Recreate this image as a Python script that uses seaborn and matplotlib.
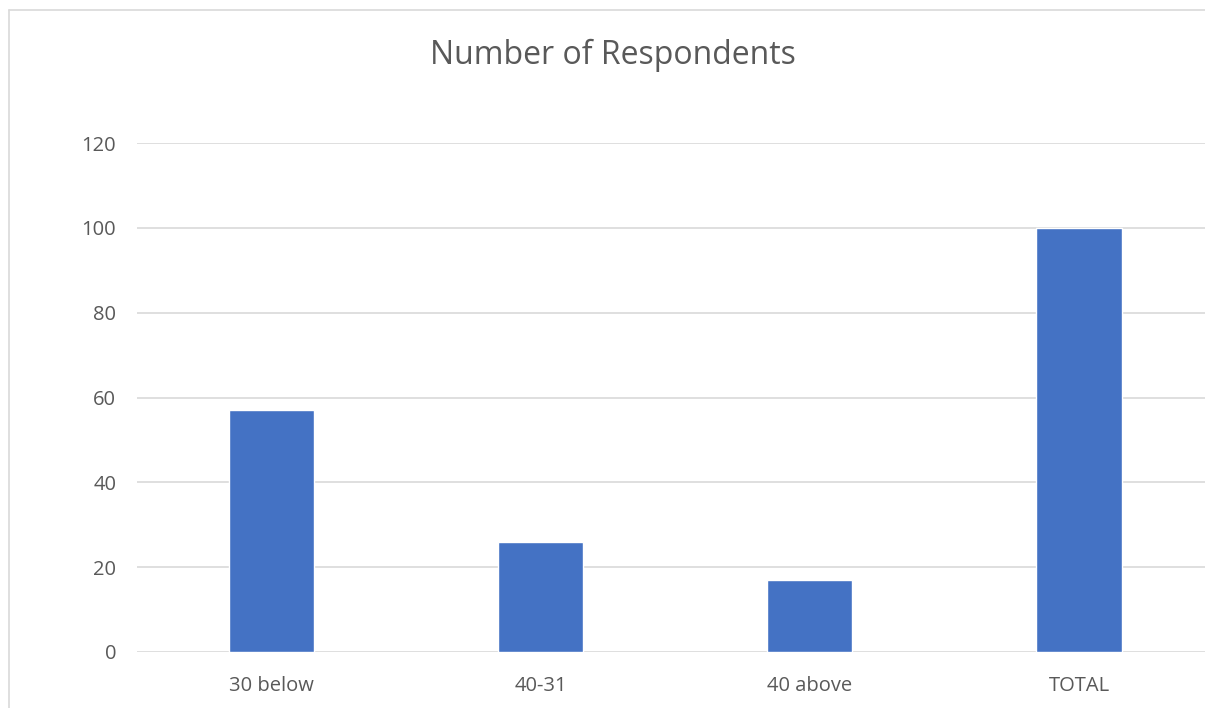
import matplotlib
matplotlib.use("Agg")
import matplotlib.pyplot as plt
from matplotlib.lines import Line2D
import seaborn as sns
import pandas as pd

categories = ["30 below", "40-31", "40 above", "TOTAL"]
respondents = [57, 26, 17, 100]
y_ticks = [0, 20, 40, 60, 80, 100, 120]

sns.set_theme(style="white")
plt.rcParams["font.family"] = ["Open Sans", "DejaVu Sans"]

df = pd.DataFrame({"group": categories, "count": respondents})

fig = plt.figure(figsize=(12.05, 7.08), dpi=100)
ax = fig.add_axes([0.1137, 0.0791, 0.8934, 0.7189])

sns.barplot(data=df, x="group", y="count", color="#4472C4", saturation=1,
            width=0.316, ax=ax, zorder=3)

ax.set_xlim(-0.5, 3.5)
ax.set_ylim(0, 120)
ax.set_yticks(y_ticks)
ax.yaxis.grid(True, color="#d9d9d9", linewidth=1.2, zorder=0)
ax.xaxis.grid(False)
for s in ax.spines.values():
    s.set_visible(False)
ax.set_xlabel("")
ax.set_ylabel("")
ax.tick_params(axis="both", length=0, colors="#595959", labelsize=14.5)
ax.tick_params(axis="y", pad=15)
ax.tick_params(axis="x", pad=17)

fig.text(0.509, 0.922, "Number of Respondents", ha="center", va="center",
         fontsize=23, color="#595959")

# chart-area frame along the top and left edges
fig.add_artist(Line2D([9 / 1205, 1.0], [1 - 10 / 708, 1 - 10 / 708],
                      transform=fig.transFigure, color="#d9d9d9", linewidth=1.2))
fig.add_artist(Line2D([9 / 1205, 9 / 1205], [0.0, 1 - 10 / 708],
                      transform=fig.transFigure, color="#d9d9d9", linewidth=1.2))

fig.savefig("out.png", dpi=100, facecolor="white")
